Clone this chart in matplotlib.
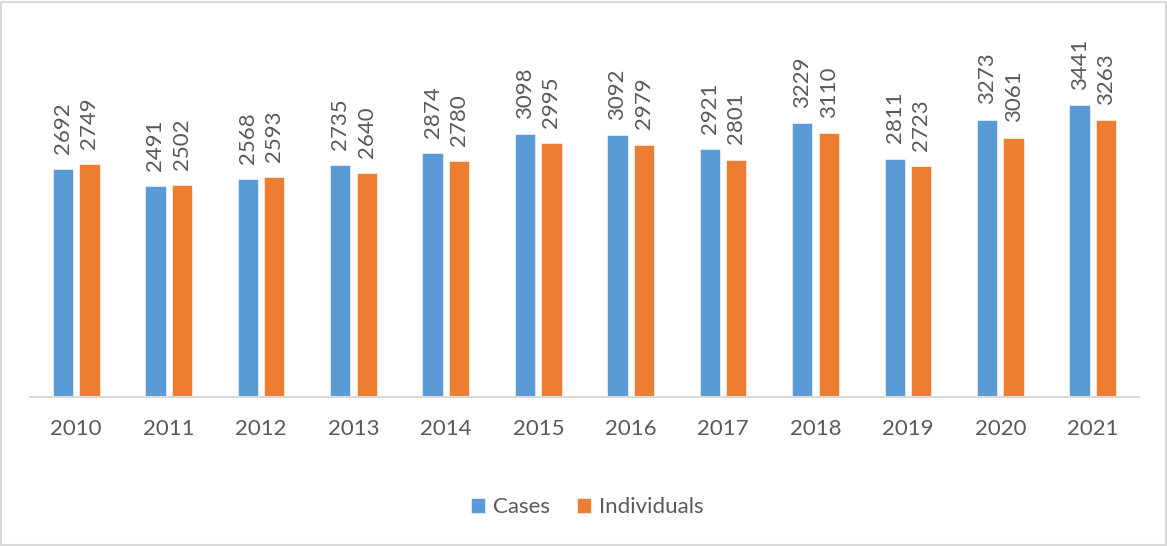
import matplotlib.pyplot as plt
import numpy as np
from matplotlib.patches import Rectangle

years = ["2010", "2011", "2012", "2013", "2014", "2015",
         "2016", "2017", "2018", "2019", "2020", "2021"]
cases = [2692, 2491, 2568, 2735, 2874, 3098, 3092, 2921, 3229, 2811, 3273, 3441]
individuals = [2749, 2502, 2593, 2640, 2780, 2995, 2979, 2801, 3110, 2723, 3061, 3263]

BLUE = "#5B9BD5"
ORANGE = "#ED7D31"
TEXT = "#595959"

plt.rcParams["font.family"] = ["Lato", "DejaVu Sans"]

fig = plt.figure(figsize=(11.67, 5.46), dpi=100)
ax = fig.add_axes([0.0257, 0.2729, 0.9503, 0.6209])

x = np.arange(len(years))
w = 0.22
off = 0.143
b1 = ax.bar(x - off, cases, w, color=BLUE, edgecolor="white", linewidth=0.4, label="Cases")
b2 = ax.bar(x + off, individuals, w, color=ORANGE, edgecolor="white", linewidth=0.4, label="Individuals")

# rotated value labels above each bar
for bars, vals in ((b1, cases), (b2, individuals)):
    for rect, v in zip(bars, vals):
        ax.annotate(str(v), (rect.get_x() + rect.get_width() / 2, rect.get_height()),
                    xytext=(0, 11), textcoords="offset points",
                    rotation=90, ha="center", va="bottom",
                    fontsize=16, color=TEXT, annotation_clip=False)

ax.set_xlim(-0.5, len(years) - 0.5)
ax.set_ylim(0, 4000)
ax.set_xticks(x)
ax.set_xticklabels(years, fontsize=16, color=TEXT)
ax.tick_params(axis="x", length=0, pad=16)
ax.set_yticks([])
for s in ("top", "right", "left"):
    ax.spines[s].set_visible(False)
ax.spines["bottom"].set_color("#D9D9D9")
ax.spines["bottom"].set_linewidth(1.5)

fig.legend(handles=[b1, b2], loc="center", bbox_to_anchor=(0.503, 0.071),
           ncol=2, frameon=False, fontsize=16, labelcolor=TEXT,
           handlelength=0.65, handleheight=0.65, handletextpad=0.35,
           columnspacing=1.2)

# light frame around the chart area
fig.patches.append(Rectangle((0.001, 0.001), 0.998, 0.996, transform=fig.transFigure,
                             fill=False, edgecolor="#D9D9D9", linewidth=1.5))

fig.savefig("out.png", dpi=100)
